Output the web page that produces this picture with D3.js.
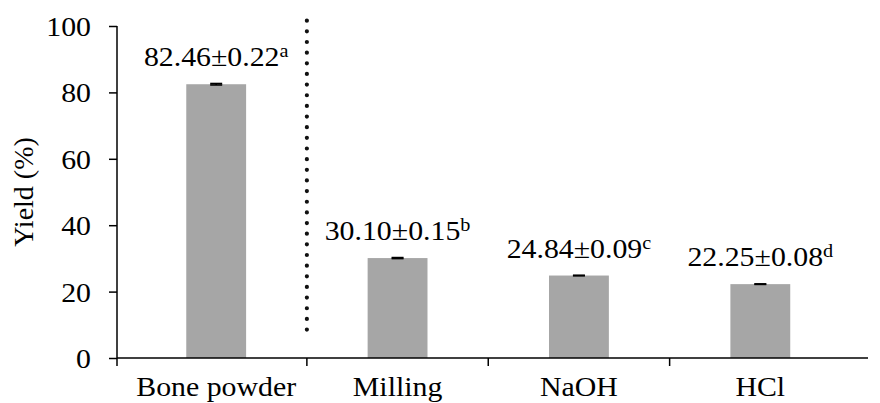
<!DOCTYPE html>
<meta charset="utf-8">
<style>
  body { margin: 0; background: #fff; }
  svg text { font-family: "Liberation Serif", "Times New Roman", serif; fill: #000; }
</style>
<div id="chart"></div>
<script src="https://d3js.org/d3.v7.min.js"></script>
<script>
  const categories = ["Bone powder", "Milling", "NaOH", "HCl"];
  const yields = [82.46, 30.10, 24.84, 22.25];
  const errors = [0.22, 0.15, 0.09, 0.08];
  const letters = ["a", "b", "c", "d"];
  const yTicks = [0, 20, 40, 60, 80, 100];

  const width = 880, height = 403;
  const axisX = 117, plotRight = 868;
  const stretch = 1.065; // text in the original is a bit wide

  const svg = d3.select("#chart").append("svg")
      .attr("width", width)
      .attr("height", height);

  const x = d3.scaleBand()
      .domain(categories)
      .range([125.5, 851])
      .padding(0);
  const y = d3.scaleLinear()
      .domain([0, 100])
      .range([358, 26]);

  const barW = x.bandwidth() * 0.33;
  const mid = c => x(c) + x.bandwidth() / 2;

  // bars
  svg.append("g")
      .attr("fill", "#a6a6a6")
    .selectAll("rect")
    .data(yields)
    .join("rect")
      .attr("x", (d, i) => mid(categories[i]) - barW / 2)
      .attr("width", barW)
      .attr("y", d => y(d))
      .attr("height", d => y(0) - y(d));

  // error bars
  const eb = svg.append("g").attr("stroke", "#000").attr("stroke-width", 1.6);
  yields.forEach((v, i) => {
    const cx = mid(categories[i]);
    const e = errors[i];
    eb.append("line").attr("x1", cx).attr("x2", cx).attr("y1", y(v - e)).attr("y2", y(v + e));
    [v - e, v + e].forEach(t => eb.append("line")
        .attr("x1", cx - 6).attr("x2", cx + 6)
        .attr("y1", y(t)).attr("y2", y(t)));
  });

  // value labels with superscript letter
  const lab = svg.append("g")
    .selectAll("text")
    .data(yields)
    .join("text")
      .attr("transform", (d, i) => `translate(${mid(categories[i])},${y(d) - 18}) scale(${stretch},1)`)
      .attr("text-anchor", "middle")
      .style("font-size", "28px");
  lab.append("tspan").text((d, i) => d.toFixed(2) + "±" + errors[i].toFixed(2));
  lab.append("tspan")
      .attr("dy", -9)
      .style("font-size", "19px")
      .text((d, i) => letters[i]);

  // dotted separator
  svg.append("line")
      .attr("x1", x(categories[1])).attr("x2", x(categories[1]))
      .attr("y1", y(101.6)).attr("y2", y(5.5))
      .attr("stroke", "#111")
      .attr("stroke-width", 4.2)
      .attr("stroke-linecap", "round")
      .attr("stroke-dasharray", "0 10.65");

  // y axis
  const yAxis = svg.append("g")
      .attr("transform", `translate(${axisX},0)`)
      .call(d3.axisLeft(y).tickValues(yTicks).tickSize(8).tickSizeOuter(0).tickPadding(18));
  yAxis.select(".domain").remove();
  yAxis.selectAll(".tick line").attr("stroke", "#000").attr("stroke-width", 1.5);
  yAxis.selectAll(".tick text")
      .attr("font-family", null)
      .attr("fill", null)
      .attr("x", null)
      .attr("transform", `translate(-26,0) scale(${stretch},1)`)
      .style("font-size", "28px")
      .attr("dy", "0.34em");
  yAxis.append("line")
      .attr("y1", y(100)).attr("y2", y(0) + 8)
      .attr("stroke", "#000").attr("stroke-width", 1.5);

  // x axis
  const xAxis = svg.append("g");
  xAxis.append("line")
      .attr("x1", axisX).attr("x2", plotRight)
      .attr("y1", y(0)).attr("y2", y(0))
      .attr("stroke", "#000").attr("stroke-width", 1.5);
  xAxis.selectAll(".sep")
    .data(categories.slice(1))
    .join("line")
      .attr("class", "sep")
      .attr("x1", d => x(d)).attr("x2", d => x(d))
      .attr("y1", y(0)).attr("y2", y(0) + 8)
      .attr("stroke", "#000").attr("stroke-width", 1.5);
  xAxis.selectAll(".cat")
    .data(categories)
    .join("text")
      .attr("class", "cat")
      .attr("transform", d => `translate(${mid(d)},396) scale(${stretch},1)`)
      .attr("text-anchor", "middle")
      .style("font-size", "28px")
      .text(d => d);

  // y title
  svg.append("text")
      .attr("transform", `translate(33,${(y(0) + y(100)) / 2}) rotate(-90)`)
      .attr("text-anchor", "middle")
      .style("font-size", "28px")
      .text("Yield (%)");
</script>
